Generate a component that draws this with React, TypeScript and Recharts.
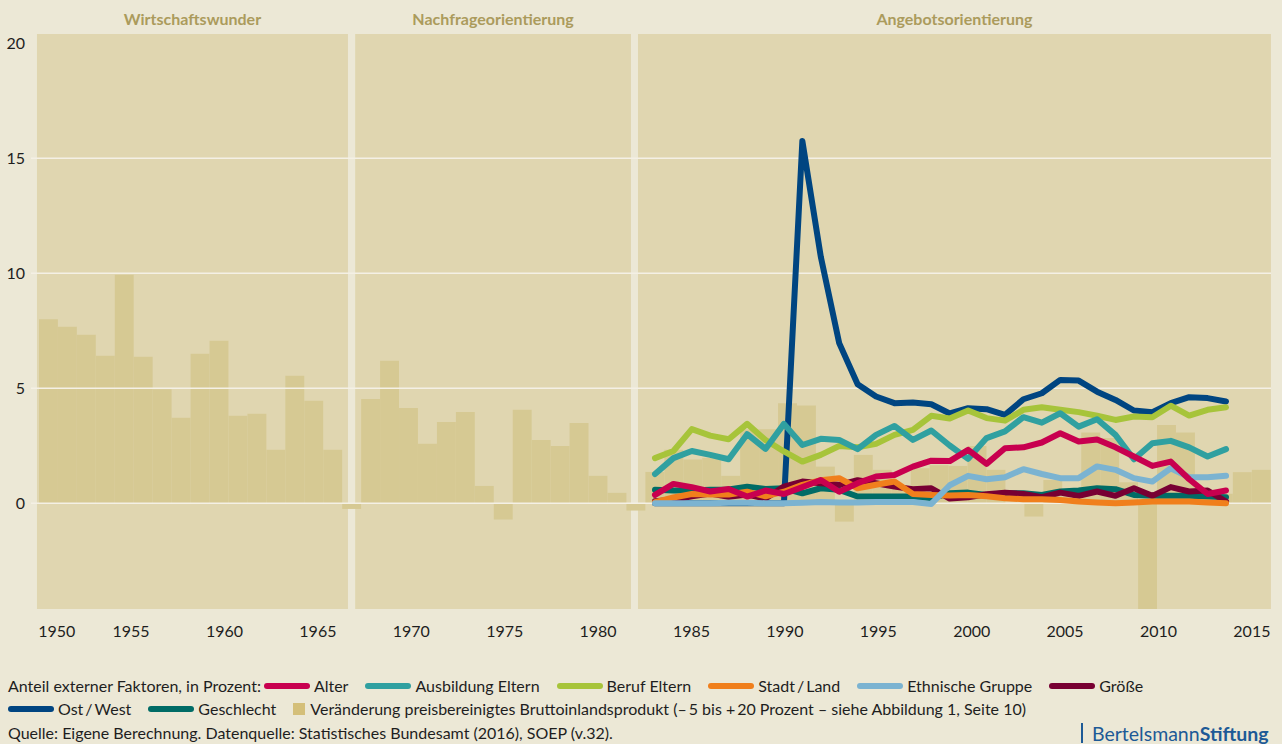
import React from 'react';
import { ComposedChart, Bar, Line, XAxis, YAxis, ReferenceArea, ReferenceLine } from 'recharts';

// ---------- data ----------
const barYears = [
  1951, 1952, 1953, 1954, 1955, 1956, 1957, 1958, 1959, 1960, 1961, 1962, 1963, 1964, 1965, 1966,
  1967, 1968, 1969, 1970, 1971, 1972, 1973, 1974, 1975, 1976, 1977, 1978, 1979, 1980, 1981, 1982,
  1983, 1984, 1985, 1986, 1987, 1988, 1989, 1990, 1991, 1992, 1993, 1994, 1995, 1996, 1997, 1998,
  1999, 2000, 2001, 2002, 2003, 2004, 2005, 2006, 2007, 2008, 2009, 2010, 2011, 2012, 2013, 2014, 2015,
];
const gdpChange = [
  8.0, 7.67, 7.32, 6.41, 9.93, 6.37, 4.95, 3.71, 6.5, 7.06, 3.8, 3.89, 2.32, 5.54, 4.45, 2.32,
  -0.25, 4.53, 6.19, 4.14, 2.58, 3.53, 3.97, 0.75, -0.71, 4.06, 2.75, 2.49, 3.49, 1.19, 0.45, -0.32,
  1.36, 2.32, 1.9, 1.97, 1.19, 3.2, 3.22, 4.35, 4.25, 1.59, -0.8, 2.1, 1.45, 0.66, 1.52, 1.65,
  1.62, 2.49, 1.45, 0.0, -0.58, 1.01, 0.58, 3.07, 2.84, 0.91, -4.6, 3.4, 3.07, 0.41, 0.41, 1.35, 1.45,
];

const lineYears = [
  1983, 1984, 1985, 1986, 1987, 1988, 1989, 1990, 1991, 1992, 1993, 1994, 1995, 1996, 1997, 1998,
  1999, 2000, 2001, 2002, 2003, 2004, 2005, 2006, 2007, 2008, 2009, 2010, 2011, 2012, 2013, 2014,
];
const alter = [0.36, 0.84, 0.7, 0.51, 0.62, 0.29, 0.55, 0.4, 0.7, 1.01, 0.5, 0.87, 1.16, 1.23, 1.59, 1.85, 1.83, 2.32, 1.71, 2.39, 2.43, 2.64, 3.04, 2.68, 2.77, 2.43, 2.03, 1.62, 1.81, 1.04, 0.4, 0.55];
const ausbildungEltern = [1.27, 1.96, 2.27, 2.1, 1.91, 3.0, 2.36, 3.45, 2.53, 2.8, 2.75, 2.35, 2.97, 3.36, 2.75, 3.16, 2.51, 1.93, 2.83, 3.12, 3.74, 3.5, 3.91, 3.33, 3.65, 2.97, 1.91, 2.61, 2.71, 2.43, 2.03, 2.35];
const berufEltern = [1.96, 2.27, 3.22, 2.94, 2.78, 3.45, 2.75, 2.25, 1.81, 2.1, 2.49, 2.43, 2.58, 2.97, 3.19, 3.8, 3.68, 4.03, 3.7, 3.59, 4.06, 4.17, 4.06, 3.96, 3.8, 3.62, 3.77, 3.74, 4.24, 3.81, 4.06, 4.17];
const stadtLand = [0.05, 0.25, 0.4, 0.38, 0.38, 0.5, 0.3, 0.5, 0.8, 1.0, 1.09, 0.65, 0.8, 0.94, 0.4, 0.36, 0.33, 0.36, 0.3, 0.22, 0.17, 0.17, 0.14, 0.07, 0.03, 0.0, 0.03, 0.07, 0.07, 0.07, 0.03, 0.0];
const ethnischeGruppe = [0.0, 0.0, 0.0, 0.0, 0.02, 0.02, 0.0, 0.0, 0.02, 0.05, 0.03, 0.03, 0.05, 0.05, 0.05, -0.03, 0.78, 1.19, 1.04, 1.13, 1.48, 1.27, 1.09, 1.09, 1.6, 1.45, 1.09, 0.94, 1.52, 1.13, 1.13, 1.19];
const groesse = [0.08, 0.15, 0.3, 0.42, 0.28, 0.38, 0.2, 0.72, 0.94, 0.87, 0.8, 1.0, 0.87, 0.72, 0.61, 0.65, 0.2, 0.26, 0.39, 0.46, 0.4, 0.26, 0.46, 0.32, 0.51, 0.32, 0.65, 0.32, 0.7, 0.51, 0.55, 0.07];
const ostWest = [0.0, 0.0, 0.0, 0.0, 0.0, 0.0, 0.0, 0.0, 15.75, 10.72, 6.96, 5.17, 4.64, 4.35, 4.38, 4.3, 3.9, 4.13, 4.09, 3.84, 4.52, 4.78, 5.36, 5.33, 4.85, 4.49, 4.03, 3.96, 4.35, 4.61, 4.57, 4.42];
const geschlecht = [0.58, 0.55, 0.55, 0.58, 0.6, 0.72, 0.62, 0.65, 0.43, 0.65, 0.58, 0.29, 0.29, 0.29, 0.29, 0.22, 0.43, 0.46, 0.36, 0.43, 0.43, 0.36, 0.51, 0.55, 0.65, 0.61, 0.36, 0.32, 0.32, 0.32, 0.29, 0.26];

const yearTicks = [1950, 1955, 1960, 1965, 1970, 1975, 1980, 1985, 1990, 1995, 2000, 2005, 2010, 2015];
const valueTicks = [0, 5, 10, 15, 20];
const gridValues = [0, 5, 10, 15];

const eras = [
  { name: 'Wirtschaftswunder', from: 1949.96, to: 1966.61 },
  { name: 'Nachfrageorientierung', from: 1966.99, to: 1981.76 },
  { name: 'Angebotsorientierung', from: 1982.13, to: 2016.02 },
];

// ---------- series config ----------
const series = [
  { key: 'ostWest', name: 'Ost\u2009/\u2009West', color: '#004581', values: ostWest },
  { key: 'geschlecht', name: 'Geschlecht', color: '#006c66', values: geschlecht },
  { key: 'groesse', name: 'Größe', color: '#780033', values: groesse },
  { key: 'stadtLand', name: 'Stadt\u2009/\u2009Land', color: '#f07f1c', values: stadtLand },
  { key: 'ethnisch', name: 'Ethnische Gruppe', color: '#7bb3d1', values: ethnischeGruppe },
  { key: 'beruf', name: 'Beruf Eltern', color: '#a7c43a', values: berufEltern },
  { key: 'ausbildung', name: 'Ausbildung Eltern', color: '#30a0a0', values: ausbildungEltern },
  { key: 'alter', name: 'Alter', color: '#c8004f', values: alter },
];
const legendRow1 = ['alter', 'ausbildung', 'beruf', 'stadtLand', 'ethnisch', 'groesse'];
const legendRow2 = ['ostWest', 'geschlecht'];

const rows = barYears.map((year, i) => {
  const row: Record<string, number> = { year, gdp: gdpChange[i] };
  const li = lineYears.indexOf(year);
  if (li >= 0) series.forEach((s) => { row[s.key] = s.values[li]; });
  return row;
});

// ---------- style ----------
const PAGE = '#ece8d6';
const PANEL = '#e0d6b0';
const BAR = '#d6c993';
const GRID = '#f4f0e5';
const TITLE = '#ab9b5c';
const TEXT = '#1e1e1e';
const FONT = 'Lato, "Open Sans", sans-serif';

const Y_MIN = -4.6;
const Y_MAX = 20.4;

const YearTick = (props: any) => {
  const { x, y, payload, index } = props;
  const first = index === 0;
  return (
    <text x={first ? x + 0.5 : x} y={y} dy={11.5} textAnchor={first ? 'start' : 'middle'} fill={TEXT} fontSize={16} fontFamily={FONT}>
      {payload.value}
    </text>
  );
};

const Swatch = ({ color }: { color: string }) => (
  <span style={{ display: 'inline-block', width: 46, height: 6, borderRadius: 3, background: color, marginRight: 4 }} />
);

const rowStyle: React.CSSProperties = {
  position: 'absolute', left: 8, height: 20, lineHeight: '20px', fontSize: 16, color: TEXT,
  display: 'flex', alignItems: 'center', whiteSpace: 'nowrap',
};

export default function App() {
  const byKey = (k: string) => series.find((s) => s.key === k)!;
  return (
    <div style={{ position: 'absolute', left: 0, top: 0, width: 1282, height: 744, background: PAGE, fontFamily: FONT, overflow: 'hidden' }}>
      <ComposedChart width={1282} height={640} data={rows} margin={{ top: 34, right: 11, bottom: 1, left: 0 }}>
        <XAxis
          dataKey="year"
          type="number"
          domain={[1949.641, 2016.022]}
          allowDataOverflow
          ticks={yearTicks}
          tick={<YearTick />}
          axisLine={false}
          tickLine={false}
          tickSize={0}
          tickMargin={16}
          interval={0}
        />
        <XAxis xAxisId="bars" dataKey="year" type="number" domain={[1950.078, 2015.513]} allowDataOverflow hide />
        <XAxis xAxisId="lines" dataKey="year" type="number" domain={[1949.124, 2016.442]} allowDataOverflow hide />
        <YAxis
          type="number"
          domain={[Y_MIN, Y_MAX]}
          allowDataOverflow
          ticks={valueTicks}
          interval={0}
          axisLine={false}
          tickLine={false}
          tickSize={0}
          tickMargin={6}
          width={31}
          tick={{ fontSize: 16, fill: TEXT, fontFamily: FONT }}
        />
        {eras.map((e) => (
          <ReferenceArea
            key={e.name}
            x1={e.from}
            x2={e.to}
            y1={Y_MIN}
            y2={Y_MAX}
            fill={PANEL}
            fillOpacity={1}
            stroke="none"
            ifOverflow="hidden"
            label={{ value: e.name, position: 'top', offset: 9, fill: TITLE, fontSize: 16, fontWeight: 700, fontFamily: FONT }}
          />
        ))}
        <Bar xAxisId="bars" dataKey="gdp" fill={BAR} barSize={18.9} isAnimationActive={false} />
        {eras.slice(1).map((e, i) => (
          <ReferenceArea
            key={'sep' + i}
            x1={eras[i].to}
            x2={e.from}
            y1={Y_MIN}
            y2={Y_MAX}
            fill={PAGE}
            fillOpacity={1}
            stroke="none"
            ifOverflow="hidden"
          />
        ))}
        {gridValues.map((v) => (
          <ReferenceLine key={v} y={v} stroke={GRID} strokeWidth={1.5} />
        ))}
        {series.map((s) => (
          <Line
            key={s.key}
            xAxisId="lines"
            dataKey={s.key}
            stroke={s.color}
            strokeWidth={6}
            strokeLinecap="round"
            strokeLinejoin="round"
            dot={false}
            activeDot={false}
            isAnimationActive={false}
          />
        ))}
      </ComposedChart>

      <div style={{ ...rowStyle, top: 676 }}>
        <span style={{ marginRight: 3 }}>Anteil externer Faktoren, in Prozent:</span>
        {legendRow1.map((k) => (
          <span key={k} style={{ display: 'inline-flex', alignItems: 'center', marginRight: 17 }}>
            <Swatch color={byKey(k).color} />
            <span>{byKey(k).name}</span>
          </span>
        ))}
      </div>
      <div style={{ ...rowStyle, top: 699 }}>
        {legendRow2.map((k) => (
          <span key={k} style={{ display: 'inline-flex', alignItems: 'center', marginRight: 17 }}>
            <Swatch color={byKey(k).color} />
            <span>{byKey(k).name}</span>
          </span>
        ))}
        <span style={{ display: 'inline-block', width: 12, height: 12, background: '#d4bf79', marginRight: 5 }} />
        <span>Veränderung preisbereinigtes Bruttoinlandsprodukt (–{'\u2009'}5 bis +{'\u2009'}20 Prozent – siehe Abbildung 1, Seite 10)</span>
      </div>
      <div style={{ ...rowStyle, top: 723, display: 'block' }}>
        Quelle: Eigene Berechnung. Datenquelle: Statistisches Bundesamt (2016), SOEP (v.32).
      </div>
      <div style={{ position: 'absolute', left: 1081, top: 722, height: 22, display: 'flex', alignItems: 'center', whiteSpace: 'nowrap', color: '#1d5a96', fontSize: 19.5 }}>
        <span style={{ display: 'inline-block', width: 2, height: 20, background: '#1d5a96', marginRight: 9 }} />
        <span>Bertelsmann</span>
        <span style={{ fontWeight: 700 }}>Stiftung</span>
      </div>
    </div>
  );
}
